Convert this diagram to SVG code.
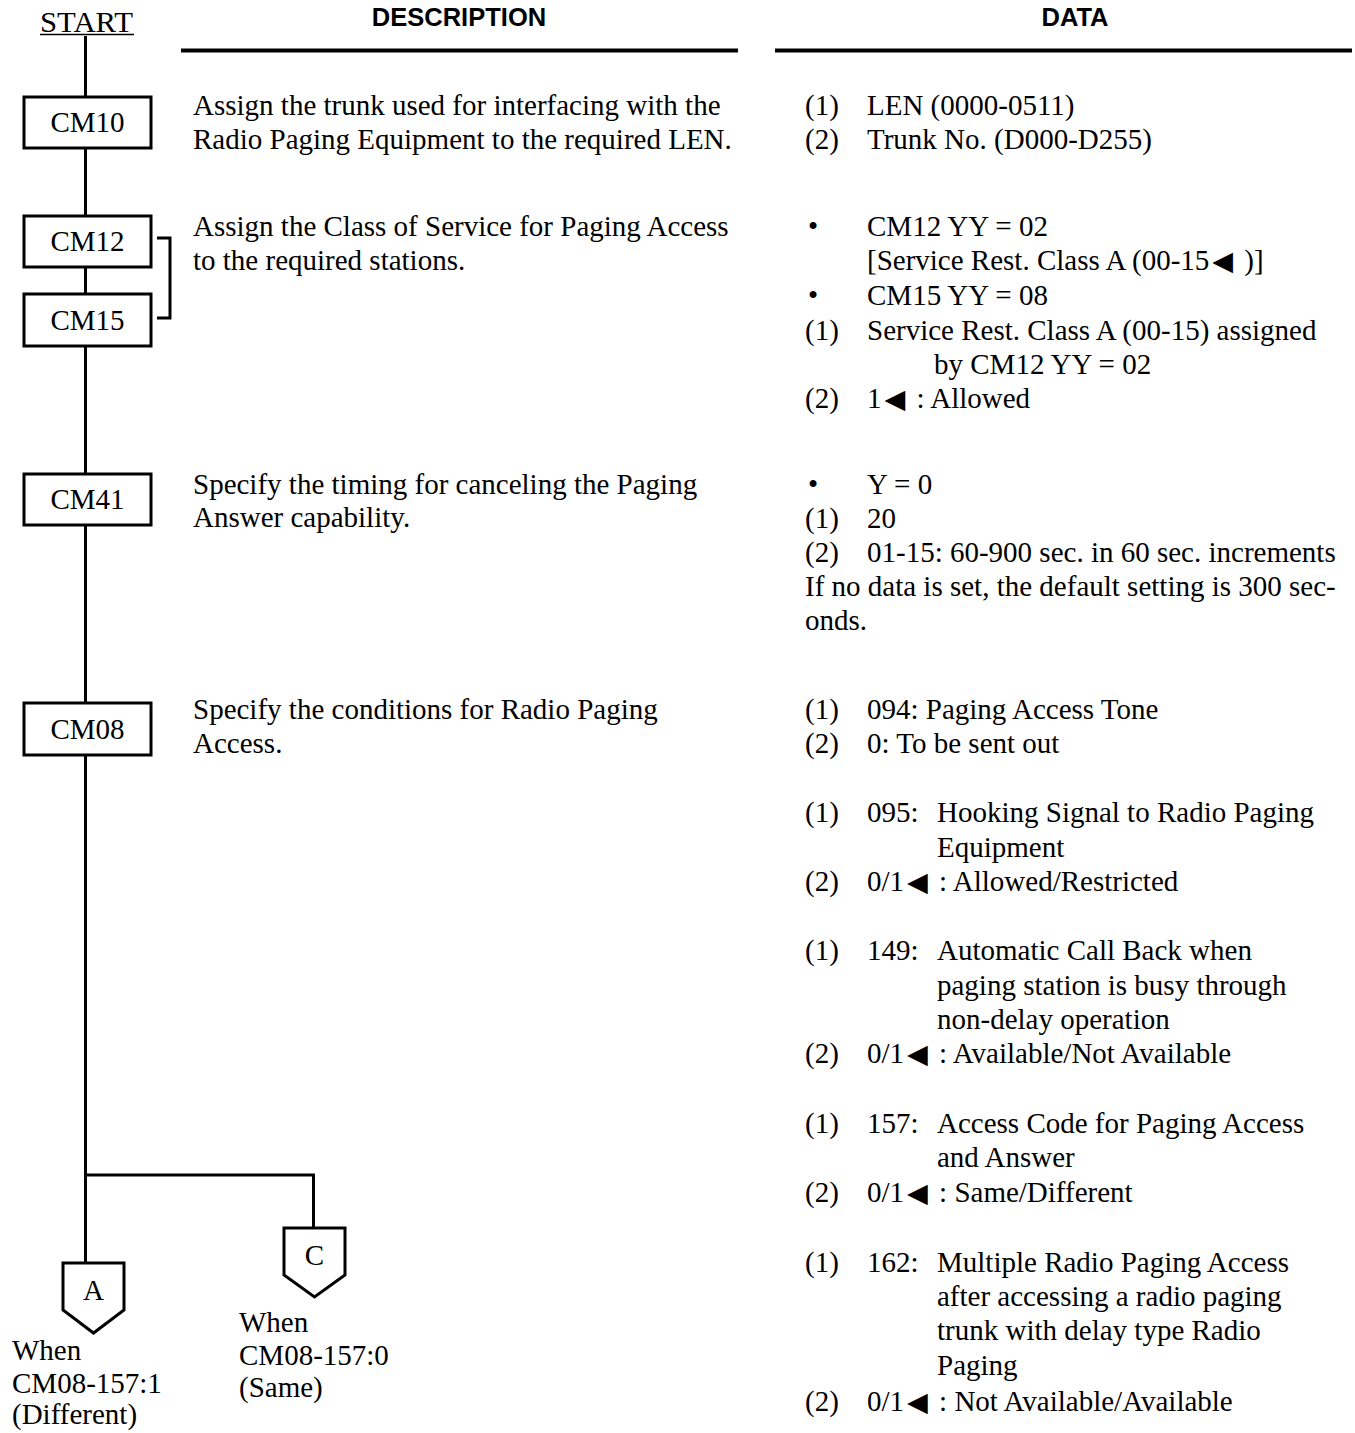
<svg xmlns="http://www.w3.org/2000/svg" width="1355" height="1433" viewBox="0 0 1355 1433">
  <style>
    .t { font-family: "Liberation Serif", "Times New Roman", serif; font-size: 29px; fill: #000; }
    .c { text-anchor: middle; }
    .h { font-family: "Liberation Sans", Arial, sans-serif; font-weight: bold; font-size: 25.5px; fill: #000; text-anchor: middle; }
    .tri { font-family: "DejaVu Sans", sans-serif; font-size: 27px; }
    .box { fill: #fff; stroke: #000; stroke-width: 3; }
    .ln { fill: none; stroke: #000; stroke-width: 3; }
    .rule { stroke: #000; stroke-width: 4; }
  </style>

  <rect width="1355" height="1433" fill="#fff"/>

  <!-- column headings -->
  <g id="headings">
    <text class="t" x="40" y="32" textLength="93" lengthAdjust="spacingAndGlyphs">START</text>
    <line x1="40" y1="34.5" x2="134" y2="34.5" stroke="#000" stroke-width="1.5"/>
    <text class="h" x="459" y="26">DESCRIPTION</text>
    <text class="h" x="1075" y="26">DATA</text>
    <line class="rule" x1="181" y1="50.5" x2="738" y2="50.5"/>
    <line class="rule" x1="775" y1="50.5" x2="1352" y2="50.5"/>
  </g>

  <!-- flow lines -->
  <g id="connectors">
    <path class="ln" d="M85.5 36 V1263"/>
    <path class="ln" d="M85.5 1175 H313.5 V1228"/>
    <path class="ln" d="M157 238 H170 V318 H157"/>
  </g>

  <!-- command boxes -->
  <g id="cm10">
    <rect class="box" x="24" y="97" width="127" height="51"/>
    <text class="t c" x="87.5" y="132">CM10</text>
  </g>
  <g id="cm12">
    <rect class="box" x="24" y="216" width="127" height="51"/>
    <text class="t c" x="87.5" y="251">CM12</text>
  </g>
  <g id="cm15">
    <rect class="box" x="24" y="294" width="127" height="52"/>
    <text class="t c" x="87.5" y="330">CM15</text>
  </g>
  <g id="cm41">
    <rect class="box" x="24" y="474" width="127" height="51"/>
    <text class="t c" x="87.5" y="509">CM41</text>
  </g>
  <g id="cm08">
    <rect class="box" x="24" y="703" width="127" height="52"/>
    <text class="t c" x="87.5" y="739">CM08</text>
  </g>

  <!-- off-page connectors -->
  <g id="conn-a">
    <polygon class="box" points="63,1263 124,1263 124,1310 93.5,1333 63,1310"/>
    <text class="t c" x="93.5" y="1300">A</text>
    <text class="t" x="12" y="1360">When</text>
    <text class="t" x="12" y="1393">CM08-157:1</text>
    <text class="t" x="12" y="1424">(Different)</text>
  </g>
  <g id="conn-c">
    <polygon class="box" points="284,1228 345,1228 345,1275 314.5,1297 284,1275"/>
    <text class="t c" x="314.5" y="1265">C</text>
    <text class="t" x="239" y="1332">When</text>
    <text class="t" x="239" y="1365">CM08-157:0</text>
    <text class="t" x="239" y="1397">(Same)</text>
  </g>

  <!-- description column -->
  <g id="description">
    <text class="t" x="193" y="115">Assign the trunk used for interfacing with the</text>
    <text class="t" x="193" y="149">Radio Paging Equipment to the required LEN.</text>
    <text class="t" x="193" y="236">Assign the Class of Service for Paging Access</text>
    <text class="t" x="193" y="270">to the required stations.</text>
    <text class="t" x="193" y="494">Specify the timing for canceling the Paging</text>
    <text class="t" x="193" y="527">Answer capability.</text>
    <text class="t" x="193" y="719">Specify the conditions for Radio Paging</text>
    <text class="t" x="193" y="753">Access.</text>
  </g>

  <!-- data column -->
  <g id="data">
    <text class="t" x="805" y="115">(1)</text><text class="t" x="867" y="115">LEN (0000-0511)</text>
    <text class="t" x="805" y="149">(2)</text><text class="t" x="867" y="149">Trunk No. (D000-D255)</text>

    <text class="t" x="808" y="236">•</text><text class="t" x="867" y="236">CM12 YY = 02</text>
    <text class="t" x="867" y="270">[Service Rest. Class A (00-15<tspan class="tri" dx="3">◀</tspan><tspan dx="4"> )]</tspan></text>
    <text class="t" x="808" y="305">•</text><text class="t" x="867" y="305">CM15 YY = 08</text>
    <text class="t" x="805" y="340">(1)</text><text class="t" x="867" y="340">Service Rest. Class A (00-15) assigned</text>
    <text class="t" x="934" y="374">by CM12 YY = 02</text>
    <text class="t" x="805" y="408">(2)</text><text class="t" x="867" y="408">1<tspan class="tri" dx="3">◀</tspan><tspan dx="4"> : Allowed</tspan></text>

    <text class="t" x="808" y="494">•</text><text class="t" x="867" y="494">Y = 0</text>
    <text class="t" x="805" y="528">(1)</text><text class="t" x="867" y="528">20</text>
    <text class="t" x="805" y="562">(2)</text><text class="t" x="867" y="562">01-15: 60-900 sec. in 60 sec. increments</text>
    <text class="t" x="805" y="596">If no data is set, the default setting is 300 sec-</text>
    <text class="t" x="805" y="630">onds.</text>

    <text class="t" x="805" y="719">(1)</text><text class="t" x="867" y="719">094: Paging Access Tone</text>
    <text class="t" x="805" y="753">(2)</text><text class="t" x="867" y="753">0: To be sent out</text>

    <text class="t" x="805" y="822">(1)</text><text class="t" x="867" y="822">095:</text><text class="t" x="937" y="822">Hooking Signal to Radio Paging</text>
    <text class="t" x="937" y="857">Equipment</text>
    <text class="t" x="805" y="891">(2)</text><text class="t" x="867" y="891">0/1<tspan class="tri" dx="3">◀</tspan><tspan dx="4"> : Allowed/Restricted</tspan></text>

    <text class="t" x="805" y="960">(1)</text><text class="t" x="867" y="960">149:</text><text class="t" x="937" y="960">Automatic Call Back when</text>
    <text class="t" x="937" y="995">paging station is busy through</text>
    <text class="t" x="937" y="1029">non-delay operation</text>
    <text class="t" x="805" y="1063">(2)</text><text class="t" x="867" y="1063">0/1<tspan class="tri" dx="3">◀</tspan><tspan dx="4"> : Available/Not Available</tspan></text>

    <text class="t" x="805" y="1133">(1)</text><text class="t" x="867" y="1133">157:</text><text class="t" x="937" y="1133">Access Code for Paging Access</text>
    <text class="t" x="937" y="1167">and Answer</text>
    <text class="t" x="805" y="1202">(2)</text><text class="t" x="867" y="1202">0/1<tspan class="tri" dx="3">◀</tspan><tspan dx="4"> : Same/Different</tspan></text>

    <text class="t" x="805" y="1272">(1)</text><text class="t" x="867" y="1272">162:</text><text class="t" x="937" y="1272">Multiple Radio Paging Access</text>
    <text class="t" x="937" y="1306">after accessing a radio paging</text>
    <text class="t" x="937" y="1340">trunk with delay type Radio</text>
    <text class="t" x="937" y="1375">Paging</text>
    <text class="t" x="805" y="1411">(2)</text><text class="t" x="867" y="1411">0/1<tspan class="tri" dx="3">◀</tspan><tspan dx="4"> : Not Available/Available</tspan></text>
  </g>
</svg>
